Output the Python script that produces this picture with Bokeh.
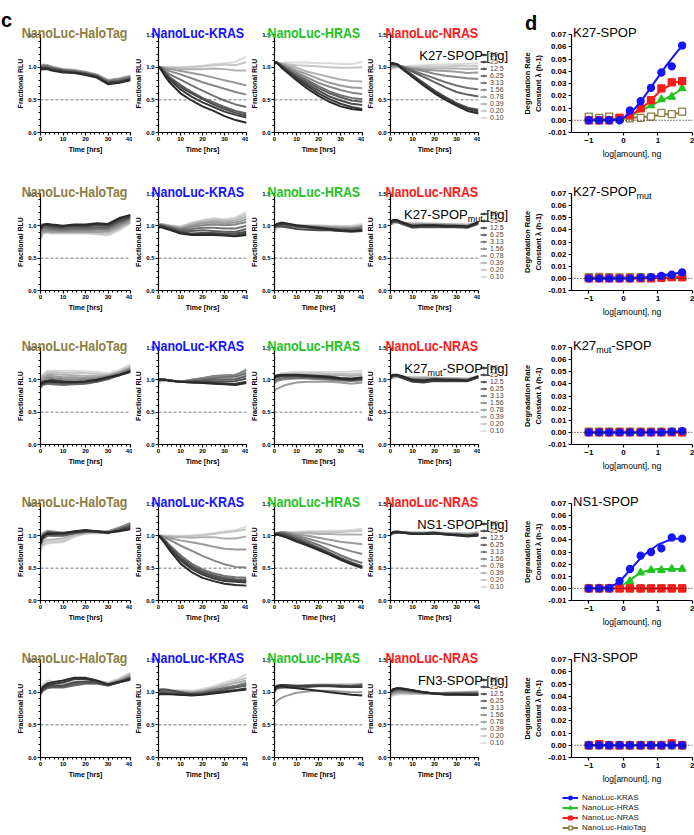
from bokeh.plotting import figure
from bokeh.layouts import row, column
from bokeh.models import (Span, Legend, LegendItem, FixedTicker, Div, Spacer,
                          NumeralTickFormatter, Range1d)
from bokeh.embed import file_html
from bokeh.resources import INLINE

# ------------------------------------------------------------------ data
time_hrs = [0, 1, 3, 5, 10, 15, 20, 25, 30, 35, 40]
conc_labels = ["50", "25", "12.5", "6.25", "3.13", "1.56", "0.78", "0.39", "0.20", "0.10"]
targets = ["NanoLuc-HaloTag", "NanoLuc-KRAS", "NanoLuc-HRAS", "NanoLuc-NRAS"]
construct_html = [
    "K27-SPOP",
    "K27-SPOP<sub>mut</sub>",
    "K27<sub>mut</sub>-SPOP",
    "NS1-SPOP",
    "FN3-SPOP",
]
unit_suffix = " [ng]"
half_level = 0.5
zero_level = 0.0
time_ticks = [0, 10, 20, 30, 40]
rlu_ticks = [0.0, 0.5, 1.0, 1.5]
log_amount = [-1.0, -0.7, -0.41, -0.11, 0.19, 0.5, 0.8, 1.1, 1.4, 1.7]
fit_x = [-1.0, -0.5, -0.25, 0.0, 0.25, 0.5, 0.75, 1.0, 1.25, 1.5, 1.7]
log_ticks = [-1, 0, 1, 2]
rate_ticks = [-0.01, 0.0, 0.01, 0.02, 0.03, 0.04, 0.05, 0.06, 0.07]

# ---- Fractional RLU time courses (rows: 50 ... 0.10 ng) ----
# K27-SPOP
k27_halotag = [
    [0.96, 0.97, 0.97, 0.95, 0.92, 0.91, 0.88, 0.84, 0.74, 0.76, 0.80],
    [0.97, 0.98, 0.98, 0.96, 0.93, 0.92, 0.89, 0.85, 0.75, 0.77, 0.81],
    [0.98, 0.99, 0.99, 0.97, 0.94, 0.92, 0.90, 0.86, 0.76, 0.78, 0.82],
    [0.98, 1.00, 1.00, 0.98, 0.95, 0.93, 0.90, 0.86, 0.77, 0.79, 0.83],
    [0.99, 1.01, 1.01, 0.99, 0.95, 0.94, 0.91, 0.87, 0.78, 0.80, 0.84],
    [1.00, 1.02, 1.02, 1.00, 0.96, 0.94, 0.92, 0.88, 0.79, 0.81, 0.85],
    [1.00, 1.03, 1.03, 1.00, 0.97, 0.95, 0.92, 0.88, 0.80, 0.82, 0.86],
    [1.01, 1.04, 1.03, 1.01, 0.97, 0.96, 0.93, 0.89, 0.80, 0.83, 0.87],
    [0.99, 1.02, 1.02, 1.00, 0.96, 0.95, 0.92, 0.88, 0.79, 0.82, 0.86],
    [0.97, 1.00, 1.00, 0.99, 0.95, 0.94, 0.91, 0.87, 0.78, 0.81, 0.85],
]
k27_kras = [
    [1.00, 0.97, 0.86, 0.77, 0.60, 0.49, 0.40, 0.33, 0.25, 0.19, 0.15],
    [1.00, 0.98, 0.89, 0.81, 0.66, 0.55, 0.46, 0.39, 0.32, 0.27, 0.23],
    [1.00, 0.98, 0.90, 0.83, 0.70, 0.60, 0.51, 0.43, 0.36, 0.30, 0.26],
    [1.00, 0.99, 0.91, 0.85, 0.73, 0.62, 0.53, 0.46, 0.39, 0.33, 0.29],
    [1.00, 0.99, 0.94, 0.89, 0.81, 0.72, 0.64, 0.56, 0.49, 0.43, 0.39],
    [1.00, 1.00, 0.97, 0.94, 0.89, 0.83, 0.77, 0.72, 0.67, 0.62, 0.58],
    [1.00, 1.00, 0.98, 0.97, 0.94, 0.91, 0.88, 0.84, 0.80, 0.76, 0.72],
    [1.00, 1.00, 0.99, 0.99, 0.97, 0.97, 0.97, 0.98, 0.97, 0.95, 0.95],
    [1.00, 1.00, 1.00, 0.99, 0.99, 1.00, 1.01, 1.03, 1.04, 1.03, 1.08],
    [1.00, 1.00, 1.00, 1.00, 1.00, 1.01, 1.02, 1.05, 1.06, 1.08, 1.16],
]
k27_hras = [
    [1.07, 1.07, 1.00, 0.94, 0.80, 0.67, 0.56, 0.47, 0.40, 0.36, 0.34],
    [1.07, 1.07, 1.01, 0.96, 0.83, 0.71, 0.60, 0.51, 0.44, 0.39, 0.36],
    [1.07, 1.07, 1.02, 0.97, 0.85, 0.74, 0.64, 0.55, 0.49, 0.44, 0.42],
    [1.07, 1.07, 1.03, 0.98, 0.87, 0.77, 0.68, 0.60, 0.54, 0.49, 0.47],
    [1.07, 1.07, 1.03, 0.99, 0.89, 0.80, 0.71, 0.63, 0.57, 0.53, 0.51],
    [1.07, 1.07, 1.04, 1.01, 0.92, 0.84, 0.76, 0.70, 0.65, 0.61, 0.59],
    [1.07, 1.07, 1.05, 1.02, 0.95, 0.89, 0.82, 0.76, 0.72, 0.69, 0.68],
    [1.07, 1.07, 1.06, 1.04, 0.99, 0.93, 0.89, 0.85, 0.81, 0.79, 0.78],
    [1.06, 1.06, 1.05, 1.05, 1.03, 1.02, 1.01, 1.00, 0.99, 0.99, 1.00],
    [1.05, 1.06, 1.06, 1.07, 1.07, 1.07, 1.06, 1.06, 1.05, 1.05, 1.08],
]
k27_nras = [
    [1.05, 1.06, 1.04, 0.98, 0.85, 0.72, 0.60, 0.50, 0.41, 0.33, 0.29],
    [1.05, 1.06, 1.05, 0.99, 0.86, 0.74, 0.62, 0.52, 0.43, 0.36, 0.32],
    [1.04, 1.05, 1.04, 1.00, 0.88, 0.76, 0.64, 0.54, 0.45, 0.38, 0.35],
    [1.04, 1.05, 1.04, 1.01, 0.93, 0.85, 0.77, 0.69, 0.62, 0.58, 0.55],
    [1.03, 1.04, 1.03, 1.01, 0.95, 0.89, 0.83, 0.77, 0.72, 0.68, 0.66],
    [1.02, 1.03, 1.03, 1.01, 0.97, 0.94, 0.90, 0.87, 0.85, 0.83, 0.82],
    [1.00, 1.01, 1.02, 1.01, 0.98, 0.96, 0.95, 0.94, 0.93, 0.91, 0.92],
    [1.00, 1.00, 1.01, 1.00, 0.99, 0.98, 0.98, 0.98, 0.98, 0.97, 0.98],
    [0.98, 0.99, 1.00, 1.00, 1.00, 1.01, 1.01, 1.01, 1.02, 1.01, 1.02],
    [0.97, 0.98, 1.00, 1.01, 1.02, 1.03, 1.04, 1.04, 1.05, 1.05, 1.06],
]
# K27-SPOPmut
spopmut_halotag = [
    [0.97, 1.02, 1.03, 1.02, 1.00, 1.02, 1.02, 1.04, 1.03, 1.12, 1.17],
    [0.96, 1.01, 1.02, 1.01, 0.99, 1.01, 1.01, 1.03, 1.02, 1.10, 1.16],
    [0.95, 1.00, 1.00, 0.99, 0.98, 1.00, 0.99, 1.01, 1.00, 1.08, 1.14],
    [0.94, 0.98, 0.98, 0.97, 0.96, 0.97, 0.97, 0.98, 0.98, 1.06, 1.13],
    [0.92, 0.96, 0.96, 0.95, 0.94, 0.95, 0.95, 0.96, 0.96, 1.04, 1.12],
    [0.90, 0.93, 0.93, 0.93, 0.92, 0.93, 0.93, 0.94, 0.94, 1.02, 1.10],
    [0.85, 0.91, 0.92, 0.91, 0.91, 0.91, 0.91, 0.91, 0.92, 0.99, 1.08],
    [0.82, 0.90, 0.91, 0.90, 0.90, 0.90, 0.90, 0.90, 0.90, 0.97, 1.06],
    [0.80, 0.89, 0.90, 0.89, 0.89, 0.89, 0.89, 0.88, 0.87, 0.95, 1.05],
    [0.79, 0.88, 0.89, 0.88, 0.88, 0.88, 0.88, 0.87, 0.85, 0.93, 1.04],
]
spopmut_kras = [
    [0.97, 0.98, 0.96, 0.94, 0.88, 0.86, 0.86, 0.86, 0.85, 0.84, 0.86],
    [0.98, 0.99, 0.97, 0.95, 0.89, 0.87, 0.87, 0.87, 0.86, 0.85, 0.88],
    [0.99, 1.00, 0.98, 0.96, 0.90, 0.88, 0.89, 0.89, 0.88, 0.88, 0.91],
    [1.00, 1.01, 0.99, 0.97, 0.92, 0.92, 0.93, 0.92, 0.91, 0.91, 0.95],
    [1.00, 1.01, 1.00, 0.98, 0.94, 0.95, 0.97, 0.97, 0.96, 0.96, 1.00],
    [1.01, 1.02, 1.00, 0.99, 0.95, 0.98, 1.01, 1.02, 1.01, 1.02, 1.06],
    [1.01, 1.02, 1.01, 0.99, 0.96, 1.00, 1.04, 1.05, 1.04, 1.05, 1.10],
    [1.01, 1.02, 1.01, 1.00, 0.97, 1.02, 1.06, 1.08, 1.07, 1.08, 1.14],
    [1.02, 1.03, 1.02, 1.00, 0.98, 1.04, 1.08, 1.10, 1.09, 1.11, 1.18],
    [1.02, 1.03, 1.02, 1.01, 0.99, 1.05, 1.09, 1.12, 1.10, 1.13, 1.22],
]
spopmut_hras = [
    [1.00, 1.03, 1.05, 1.04, 1.01, 0.99, 0.97, 0.95, 0.93, 0.92, 0.93],
    [0.99, 1.02, 1.03, 1.03, 1.00, 0.98, 0.96, 0.94, 0.92, 0.91, 0.92],
    [0.98, 0.99, 0.99, 0.98, 0.95, 0.94, 0.93, 0.93, 0.92, 0.92, 0.92],
    [0.98, 1.00, 1.00, 1.00, 0.98, 0.97, 0.96, 0.95, 0.94, 0.94, 0.95],
    [0.99, 1.01, 1.02, 1.01, 0.99, 0.98, 0.97, 0.96, 0.95, 0.95, 0.97],
    [0.99, 1.01, 1.02, 1.01, 1.00, 0.99, 0.98, 0.97, 0.96, 0.96, 0.98],
    [0.98, 1.00, 1.01, 1.01, 1.00, 0.99, 0.99, 0.98, 0.97, 0.97, 0.99],
    [0.96, 0.99, 1.00, 1.00, 1.00, 1.00, 0.99, 0.99, 0.98, 0.98, 1.00],
    [0.93, 0.98, 0.99, 1.00, 1.00, 1.00, 1.00, 0.99, 0.99, 0.99, 1.01],
    [0.90, 0.97, 0.99, 1.00, 1.01, 1.01, 1.01, 1.00, 1.00, 1.00, 1.03],
]
spopmut_nras = [
    [1.06, 1.09, 1.09, 1.06, 1.00, 1.01, 1.01, 1.00, 1.00, 0.99, 1.06],
    [1.05, 1.08, 1.08, 1.05, 0.99, 1.00, 1.00, 0.99, 0.99, 0.98, 1.05],
    [1.04, 1.07, 1.07, 1.04, 0.98, 0.99, 0.99, 0.99, 0.98, 0.98, 1.04],
    [1.03, 1.06, 1.06, 1.03, 0.97, 0.98, 0.98, 0.98, 0.98, 0.97, 1.03],
    [1.04, 1.07, 1.07, 1.05, 1.00, 1.00, 1.00, 1.00, 0.99, 0.99, 1.04],
    [1.03, 1.06, 1.06, 1.04, 1.00, 1.01, 1.01, 1.00, 1.00, 1.00, 1.05],
    [1.02, 1.05, 1.06, 1.05, 1.02, 1.03, 1.02, 1.02, 1.01, 1.00, 1.05],
    [1.02, 1.05, 1.06, 1.05, 1.03, 1.03, 1.03, 1.02, 1.02, 1.01, 1.05],
    [1.01, 1.04, 1.05, 1.05, 1.04, 1.04, 1.03, 1.03, 1.02, 1.02, 1.06],
    [1.00, 1.03, 1.05, 1.05, 1.04, 1.04, 1.04, 1.03, 1.03, 1.02, 1.06],
]
# K27mut-SPOP
k27mut_halotag = [
    [0.93, 0.96, 0.98, 0.98, 0.97, 0.97, 0.98, 1.00, 1.04, 1.08, 1.13],
    [0.92, 0.95, 0.97, 0.97, 0.96, 0.96, 0.97, 0.99, 1.03, 1.07, 1.12],
    [0.94, 0.97, 0.99, 1.00, 0.98, 0.97, 0.97, 0.99, 1.03, 1.08, 1.14],
    [0.90, 0.93, 0.95, 0.95, 0.94, 0.94, 0.95, 0.97, 1.02, 1.07, 1.14],
    [0.88, 0.92, 0.94, 0.93, 0.92, 0.93, 0.94, 0.97, 1.01, 1.07, 1.15],
    [0.92, 0.98, 1.03, 1.03, 1.01, 1.01, 1.01, 1.02, 1.05, 1.10, 1.17],
    [0.95, 1.02, 1.06, 1.06, 1.04, 1.04, 1.03, 1.04, 1.06, 1.11, 1.18],
    [0.96, 1.05, 1.09, 1.09, 1.08, 1.07, 1.06, 1.06, 1.07, 1.12, 1.19],
    [0.95, 1.07, 1.12, 1.12, 1.11, 1.11, 1.10, 1.09, 1.08, 1.13, 1.21],
    [0.94, 1.08, 1.14, 1.14, 1.14, 1.14, 1.13, 1.12, 1.10, 1.15, 1.24],
]
k27mut_kras = [
    [1.00, 1.00, 1.00, 0.99, 0.97, 0.96, 0.95, 0.94, 0.93, 0.92, 0.95],
    [1.00, 1.00, 1.00, 0.99, 0.97, 0.96, 0.96, 0.95, 0.94, 0.94, 0.97],
    [1.00, 1.00, 1.00, 0.99, 0.97, 0.97, 0.97, 0.97, 0.97, 0.98, 1.02],
    [1.00, 1.01, 1.00, 0.99, 0.97, 0.98, 0.99, 1.00, 1.00, 1.01, 1.06],
    [1.00, 1.01, 1.00, 0.99, 0.97, 0.99, 1.01, 1.03, 1.04, 1.05, 1.10],
    [1.00, 1.01, 1.00, 0.99, 0.97, 1.00, 1.03, 1.06, 1.07, 1.08, 1.15],
    [0.99, 1.00, 1.00, 0.99, 0.97, 1.00, 1.02, 1.04, 1.05, 1.07, 1.12],
    [0.98, 0.99, 0.99, 0.98, 0.97, 0.99, 1.01, 1.03, 1.03, 1.05, 1.17],
    [0.96, 0.98, 0.99, 0.98, 0.97, 0.98, 1.00, 1.01, 1.02, 1.04, 1.08],
    [0.94, 0.97, 0.98, 0.98, 0.97, 0.98, 0.99, 1.00, 1.01, 1.03, 1.06],
]
k27mut_hras = [
    [1.04, 1.06, 1.07, 1.07, 1.07, 1.06, 1.05, 1.04, 1.02, 1.01, 1.03],
    [1.05, 1.07, 1.08, 1.08, 1.08, 1.07, 1.06, 1.05, 1.03, 1.02, 1.04],
    [1.03, 1.05, 1.06, 1.06, 1.06, 1.05, 1.04, 1.03, 1.01, 1.00, 1.02],
    [1.02, 1.04, 1.05, 1.05, 1.05, 1.04, 1.03, 1.02, 1.00, 0.99, 1.01],
    [0.98, 1.00, 1.02, 1.03, 1.03, 1.03, 1.02, 1.01, 1.00, 0.99, 1.00],
    [0.95, 0.98, 1.00, 1.01, 1.02, 1.02, 1.01, 1.00, 0.99, 0.98, 0.99],
    [0.83, 0.86, 0.89, 0.92, 0.96, 0.97, 0.97, 0.97, 0.96, 0.94, 0.96],
    [1.00, 1.03, 1.06, 1.07, 1.08, 1.08, 1.08, 1.07, 1.07, 1.06, 1.08],
    [1.02, 1.05, 1.08, 1.09, 1.10, 1.10, 1.10, 1.09, 1.09, 1.09, 1.10],
    [1.03, 1.07, 1.10, 1.11, 1.12, 1.12, 1.12, 1.12, 1.12, 1.13, 1.14],
]
k27mut_nras = [
    [1.05, 1.08, 1.08, 1.06, 1.00, 0.99, 1.01, 1.00, 1.00, 0.99, 1.06],
    [1.04, 1.07, 1.07, 1.04, 0.98, 0.97, 0.99, 0.99, 0.99, 0.98, 1.05],
    [1.03, 1.06, 1.06, 1.03, 0.97, 0.96, 0.98, 0.98, 0.98, 0.98, 1.04],
    [1.04, 1.07, 1.07, 1.05, 0.99, 0.98, 1.00, 1.00, 0.99, 0.99, 1.04],
    [1.03, 1.06, 1.07, 1.05, 1.00, 1.00, 1.01, 1.00, 1.00, 1.00, 1.05],
    [1.02, 1.05, 1.06, 1.05, 1.01, 1.01, 1.02, 1.01, 1.01, 1.00, 1.04],
    [1.02, 1.05, 1.06, 1.05, 1.02, 1.02, 1.02, 1.02, 1.01, 1.01, 1.05],
    [1.01, 1.04, 1.05, 1.05, 1.03, 1.03, 1.03, 1.02, 1.02, 1.01, 1.05],
    [1.00, 1.03, 1.05, 1.05, 1.04, 1.04, 1.03, 1.03, 1.02, 1.02, 1.06],
    [1.00, 1.03, 1.04, 1.04, 1.04, 1.04, 1.04, 1.03, 1.03, 1.02, 1.05],
]
# NS1-SPOP
ns1_halotag = [
    [0.88, 0.98, 1.03, 1.03, 1.04, 1.07, 1.09, 1.07, 1.05, 1.07, 1.10],
    [0.90, 1.00, 1.04, 1.04, 1.04, 1.06, 1.08, 1.07, 1.05, 1.08, 1.12],
    [0.92, 1.00, 1.05, 1.05, 1.03, 1.05, 1.07, 1.06, 1.05, 1.09, 1.14],
    [0.86, 0.95, 1.00, 1.00, 1.00, 1.04, 1.06, 1.06, 1.04, 1.10, 1.16],
    [0.90, 0.98, 1.02, 1.01, 1.01, 1.05, 1.06, 1.06, 1.05, 1.11, 1.17],
    [0.92, 1.02, 1.06, 1.06, 1.04, 1.06, 1.07, 1.06, 1.06, 1.12, 1.19],
    [0.95, 1.04, 1.08, 1.07, 1.05, 1.06, 1.07, 1.07, 1.07, 1.13, 1.20],
    [0.85, 0.90, 0.94, 0.94, 0.96, 1.02, 1.05, 1.05, 1.05, 1.12, 1.18],
    [0.80, 0.86, 0.90, 0.90, 0.92, 1.00, 1.04, 1.05, 1.05, 1.11, 1.17],
    [0.76, 0.84, 0.88, 0.89, 0.90, 0.98, 1.03, 1.04, 1.04, 1.10, 1.16],
]
ns1_kras = [
    [1.00, 0.97, 0.88, 0.78, 0.57, 0.44, 0.35, 0.30, 0.26, 0.24, 0.23],
    [1.00, 0.98, 0.90, 0.81, 0.62, 0.49, 0.40, 0.34, 0.30, 0.29, 0.28],
    [1.00, 0.98, 0.91, 0.83, 0.65, 0.52, 0.43, 0.37, 0.33, 0.31, 0.30],
    [1.00, 0.98, 0.92, 0.84, 0.67, 0.54, 0.45, 0.39, 0.35, 0.33, 0.32],
    [1.00, 0.99, 0.93, 0.86, 0.70, 0.57, 0.48, 0.42, 0.38, 0.36, 0.35],
    [1.00, 1.00, 0.97, 0.94, 0.85, 0.77, 0.69, 0.62, 0.56, 0.52, 0.51],
    [1.00, 1.00, 0.98, 0.97, 0.93, 0.90, 0.87, 0.83, 0.80, 0.79, 0.79],
    [1.00, 1.00, 0.99, 0.99, 0.98, 0.97, 0.98, 0.98, 0.96, 0.96, 0.99],
    [1.00, 1.00, 1.00, 0.99, 0.99, 1.00, 1.01, 1.03, 1.05, 1.07, 1.10],
    [1.00, 1.00, 1.00, 1.00, 1.00, 1.00, 1.02, 1.04, 1.07, 1.09, 1.14],
]
ns1_hras = [
    [1.00, 1.02, 1.00, 0.98, 0.91, 0.85, 0.78, 0.71, 0.63, 0.56, 0.50],
    [1.01, 1.03, 1.01, 0.99, 0.92, 0.86, 0.79, 0.72, 0.64, 0.57, 0.51],
    [1.02, 1.04, 1.03, 1.01, 0.94, 0.87, 0.80, 0.73, 0.65, 0.58, 0.52],
    [1.02, 1.04, 1.04, 1.02, 0.96, 0.89, 0.82, 0.74, 0.66, 0.59, 0.53],
    [1.02, 1.04, 1.05, 1.04, 0.98, 0.92, 0.86, 0.78, 0.70, 0.63, 0.58],
    [1.02, 1.04, 1.05, 1.05, 1.00, 0.96, 0.91, 0.86, 0.81, 0.76, 0.72],
    [1.02, 1.04, 1.05, 1.05, 1.02, 1.00, 0.97, 0.94, 0.91, 0.89, 0.87],
    [1.02, 1.04, 1.05, 1.05, 1.04, 1.04, 1.03, 1.03, 1.02, 1.02, 1.02],
    [1.02, 1.04, 1.05, 1.05, 1.05, 1.06, 1.06, 1.06, 1.06, 1.07, 1.08],
    [1.02, 1.04, 1.05, 1.05, 1.06, 1.07, 1.07, 1.08, 1.08, 1.09, 1.11],
]
ns1_nras = [
    [1.02, 1.05, 1.06, 1.05, 1.03, 1.03, 1.04, 1.02, 1.01, 1.00, 1.00],
    [1.02, 1.05, 1.06, 1.05, 1.03, 1.03, 1.04, 1.02, 1.01, 0.99, 1.01],
    [1.03, 1.06, 1.06, 1.05, 1.04, 1.03, 1.04, 1.03, 1.02, 1.00, 1.02],
    [1.03, 1.06, 1.07, 1.06, 1.04, 1.04, 1.05, 1.03, 1.02, 1.01, 1.02],
    [1.03, 1.05, 1.06, 1.05, 1.04, 1.04, 1.04, 1.03, 1.02, 1.01, 1.03],
    [1.02, 1.04, 1.05, 1.05, 1.04, 1.04, 1.04, 1.03, 1.03, 1.02, 1.03],
    [1.02, 1.04, 1.05, 1.05, 1.04, 1.04, 1.05, 1.04, 1.03, 1.02, 1.04],
    [1.02, 1.04, 1.05, 1.05, 1.05, 1.05, 1.05, 1.04, 1.04, 1.03, 1.05],
    [1.01, 1.03, 1.05, 1.05, 1.05, 1.05, 1.05, 1.04, 1.04, 1.03, 1.05],
    [1.01, 1.03, 1.04, 1.05, 1.05, 1.05, 1.05, 1.05, 1.04, 1.04, 1.06],
]
# FN3-SPOP
fn3_halotag = [
    [1.00, 1.08, 1.13, 1.15, 1.18, 1.22, 1.22, 1.18, 1.12, 1.16, 1.20],
    [0.99, 1.06, 1.10, 1.12, 1.15, 1.20, 1.20, 1.17, 1.11, 1.15, 1.19],
    [0.98, 1.04, 1.08, 1.09, 1.10, 1.15, 1.16, 1.15, 1.11, 1.15, 1.21],
    [0.98, 1.03, 1.07, 1.08, 1.08, 1.12, 1.14, 1.14, 1.10, 1.15, 1.22],
    [0.97, 1.02, 1.06, 1.07, 1.07, 1.10, 1.13, 1.13, 1.10, 1.16, 1.23],
    [0.98, 1.04, 1.08, 1.09, 1.09, 1.12, 1.14, 1.14, 1.11, 1.17, 1.24],
    [0.99, 1.06, 1.10, 1.11, 1.11, 1.14, 1.15, 1.15, 1.12, 1.18, 1.25],
    [1.00, 1.08, 1.12, 1.13, 1.13, 1.15, 1.16, 1.16, 1.13, 1.19, 1.27],
    [1.02, 1.10, 1.15, 1.15, 1.15, 1.16, 1.17, 1.17, 1.14, 1.20, 1.28],
    [1.03, 1.12, 1.18, 1.17, 1.16, 1.17, 1.18, 1.18, 1.15, 1.21, 1.30],
]
fn3_kras = [
    [0.96, 0.97, 0.97, 0.97, 0.96, 0.95, 0.96, 0.98, 1.00, 1.02, 1.04],
    [0.97, 0.98, 0.98, 0.97, 0.96, 0.96, 0.97, 0.99, 1.01, 1.03, 1.05],
    [1.03, 1.04, 1.04, 1.03, 1.00, 0.97, 0.97, 0.99, 1.01, 1.03, 1.06],
    [1.00, 1.01, 1.00, 0.99, 0.98, 0.97, 0.98, 1.01, 1.04, 1.07, 1.10],
    [1.00, 1.01, 1.01, 1.00, 0.99, 0.98, 1.00, 1.03, 1.06, 1.09, 1.12],
    [0.99, 1.00, 1.00, 0.99, 0.98, 0.98, 1.00, 1.03, 1.06, 1.09, 1.13],
    [1.01, 1.02, 1.02, 1.01, 1.00, 0.99, 1.01, 1.04, 1.07, 1.10, 1.15],
    [1.02, 1.03, 1.03, 1.02, 1.01, 1.00, 1.02, 1.06, 1.10, 1.14, 1.18],
    [1.03, 1.04, 1.04, 1.03, 1.02, 1.01, 1.03, 1.07, 1.12, 1.17, 1.22],
    [1.04, 1.05, 1.05, 1.04, 1.03, 1.02, 1.05, 1.09, 1.15, 1.20, 1.27],
]
fn3_hras = [
    [1.03, 1.08, 1.09, 1.08, 1.06, 1.04, 1.02, 1.00, 0.98, 0.96, 0.95],
    [1.05, 1.10, 1.11, 1.11, 1.10, 1.10, 1.10, 1.10, 1.09, 1.08, 1.08],
    [1.04, 1.08, 1.09, 1.09, 1.09, 1.10, 1.10, 1.10, 1.10, 1.09, 1.10],
    [1.02, 1.06, 1.07, 1.07, 1.07, 1.08, 1.09, 1.09, 1.08, 1.08, 1.09],
    [1.03, 1.07, 1.08, 1.08, 1.08, 1.09, 1.10, 1.10, 1.09, 1.09, 1.11],
    [1.02, 1.06, 1.08, 1.08, 1.09, 1.10, 1.11, 1.11, 1.10, 1.10, 1.12],
    [0.82, 0.86, 0.91, 0.94, 0.99, 1.01, 1.02, 1.02, 1.01, 1.00, 1.00],
    [1.00, 1.05, 1.07, 1.08, 1.09, 1.10, 1.11, 1.11, 1.11, 1.11, 1.12],
    [1.01, 1.06, 1.08, 1.09, 1.10, 1.11, 1.12, 1.12, 1.12, 1.12, 1.13],
    [1.00, 1.04, 1.06, 1.07, 1.08, 1.09, 1.10, 1.10, 1.10, 1.10, 1.11],
]
fn3_nras = [
    [1.00, 1.04, 1.06, 1.06, 1.03, 1.00, 0.98, 0.96, 0.96, 0.96, 0.96],
    [1.00, 1.04, 1.06, 1.05, 1.03, 1.00, 0.98, 0.97, 0.97, 0.96, 0.96],
    [1.00, 1.03, 1.05, 1.05, 1.02, 1.00, 0.98, 0.97, 0.97, 0.97, 0.97],
    [0.99, 1.02, 1.04, 1.04, 1.02, 1.00, 0.98, 0.98, 0.98, 0.98, 0.98],
    [0.98, 1.01, 1.03, 1.03, 1.01, 0.99, 0.98, 0.98, 0.98, 0.98, 0.98],
    [0.97, 1.00, 1.02, 1.02, 1.00, 0.99, 0.98, 0.98, 0.98, 0.99, 0.99],
    [0.96, 0.99, 1.00, 1.00, 0.99, 0.98, 0.98, 0.98, 0.99, 0.99, 1.00],
    [0.95, 0.97, 0.99, 0.99, 0.98, 0.98, 0.98, 0.99, 0.99, 1.00, 1.00],
    [0.94, 0.96, 0.97, 0.98, 0.98, 0.98, 0.98, 0.99, 1.00, 1.00, 1.01],
    [0.93, 0.95, 0.96, 0.97, 0.97, 0.98, 0.98, 0.99, 1.00, 1.01, 1.01],
]

# ---- degradation rate constants (points at log_amount, fits at fit_x) ----
k27_rate_kras = [0.0, 0.0, 0.0, 0.0, 0.008, 0.0155, 0.0265, 0.039, 0.044, 0.061]
k27_rate_hras = [0.0, 0.0, 0.0, 0.0, 0.003, 0.009, 0.012, 0.017, 0.019, 0.026]
k27_rate_nras = [0.0, 0.0, 0.0, 0.002, 0.004, 0.0097, 0.0164, 0.026, 0.031, 0.032]
k27_rate_halotag = [0.003, 0.002, 0.003, 0.002, 0.0015, 0.002, 0.003, 0.006, 0.005, 0.007]
k27_fit_kras = [0.0, 0.0, 0.0005, 0.002, 0.007, 0.015, 0.025, 0.035, 0.045, 0.054, 0.061]
k27_fit_hras = [0.0, 0.0, 0.0, 0.001, 0.004, 0.008, 0.011, 0.015, 0.018, 0.022, 0.026]
k27_fit_nras = [0.0, 0.0, 0.0005, 0.002, 0.005, 0.009, 0.015, 0.022, 0.027, 0.031, 0.032]
k27_fit_halotag = [0.001, 0.001, 0.0012, 0.0015, 0.002, 0.0025, 0.003, 0.004, 0.005, 0.0055, 0.006]

spopmut_rate_kras = [0.0, 0.0, 0.0, 0.0, 0.0, 0.0005, 0.001, 0.002, 0.003, 0.005]
spopmut_rate_hras = [0.0, 0.0, 0.0, 0.0, 0.0, 0.0, 0.0005, 0.001, 0.001, 0.002]
spopmut_rate_nras = [0.0, 0.0, 0.0, 0.0, 0.0, 0.0, 0.0, 0.0005, 0.001, 0.001]
spopmut_rate_halotag = [0.001, 0.0012, 0.001, 0.0008, 0.001, 0.001, 0.0008, 0.001, 0.0012, 0.001]
spopmut_fit_kras = [0.0, 0.0, 0.0, 0.0, 0.0002, 0.0006, 0.0012, 0.002, 0.003, 0.004, 0.005]
spopmut_fit_hras = [0.0, 0.0, 0.0, 0.0, 0.0, 0.0002, 0.0005, 0.0008, 0.0012, 0.0016, 0.002]
spopmut_fit_nras = [0.0, 0.0, 0.0, 0.0, 0.0, 0.0, 0.0002, 0.0004, 0.0006, 0.0008, 0.001]
spopmut_fit_halotag = [0.001, 0.001, 0.001, 0.001, 0.001, 0.001, 0.001, 0.001, 0.001, 0.001, 0.001]

k27mut_rate_kras = [0.0, 0.0, 0.0, 0.0, 0.0, 0.0, 0.0, 0.0, 0.0005, 0.001]
k27mut_rate_hras = [0.0, 0.0, 0.0, 0.0, 0.0, 0.0, 0.0, 0.0, 0.0, 0.0]
k27mut_rate_nras = [0.0, 0.0, 0.0, 0.0, 0.0, 0.0, 0.0, 0.0, 0.0, 0.0]
k27mut_rate_halotag = [0.0005, 0.0005, 0.0005, 0.0005, 0.0005, 0.0005, 0.0005, 0.0005, 0.0005, 0.0005]
k27mut_fit_kras = [0.0, 0.0, 0.0, 0.0, 0.0, 0.0, 0.0, 0.0002, 0.0004, 0.0007, 0.001]
k27mut_fit_hras = [0.0, 0.0, 0.0, 0.0, 0.0, 0.0, 0.0, 0.0, 0.0, 0.0, 0.0]
k27mut_fit_nras = [0.0, 0.0, 0.0, 0.0, 0.0, 0.0, 0.0, 0.0, 0.0, 0.0, 0.0]
k27mut_fit_halotag = [0.0005, 0.0005, 0.0005, 0.0005, 0.0005, 0.0005, 0.0005, 0.0005, 0.0005, 0.0005, 0.0005]

ns1_rate_kras = [0.0, 0.0, 0.0, 0.006, 0.016, 0.027, 0.030, 0.033, 0.042, 0.041]
ns1_rate_hras = [0.0, 0.0, 0.0, 0.002, 0.006, 0.013, 0.015, 0.015, 0.016, 0.016]
ns1_rate_nras = [0.0, 0.0, 0.0, 0.0, 0.0, 0.0, 0.0, 0.0, 0.0, 0.0]
ns1_rate_halotag = [0.0, 0.0, 0.0, 0.0, 0.0, 0.0, 0.0, 0.0, 0.0, 0.0]
ns1_fit_kras = [0.0, 0.001, 0.003, 0.009, 0.017, 0.025, 0.031, 0.036, 0.039, 0.041, 0.041]
ns1_fit_hras = [0.0, 0.0, 0.0005, 0.003, 0.008, 0.013, 0.015, 0.016, 0.016, 0.016, 0.016]
ns1_fit_nras = [0.0, 0.0, 0.0, 0.0, 0.0, 0.0, 0.0, 0.0, 0.0, 0.0, 0.0]
ns1_fit_halotag = [0.0, 0.0, 0.0, 0.0, 0.0, 0.0, 0.0, 0.0, 0.0, 0.0, 0.0]

fn3_rate_kras = [0.0, 0.0, 0.0, 0.0, 0.0, 0.0, 0.0, 0.0, 0.0, 0.0]
fn3_rate_hras = [0.0, 0.0, 0.0, 0.0, 0.0, 0.0, 0.0, 0.0, 0.0, 0.0]
fn3_rate_nras = [0.0, 0.001, 0.0, 0.0, 0.0, 0.0, 0.0, 0.0, 0.0015, 0.0]
fn3_rate_halotag = [0.0, 0.0, 0.0, 0.0, 0.0, 0.0, 0.0, 0.0, 0.0, 0.0]
fn3_fit_kras = [0.0, 0.0, 0.0, 0.0, 0.0, 0.0, 0.0, 0.0, 0.0, 0.0, 0.0]
fn3_fit_hras = [0.0, 0.0, 0.0, 0.0, 0.0, 0.0, 0.0, 0.0, 0.0, 0.0, 0.0]
fn3_fit_nras = [0.0, 0.0, 0.0, 0.0, 0.0, 0.0, 0.0, 0.0, 0.0, 0.0, 0.0]
fn3_fit_halotag = [0.0, 0.0, 0.0, 0.0, 0.0, 0.0, 0.0, 0.0, 0.0, 0.0, 0.0]

# ------------------------------------------------------------------ assembly
time_courses = [
    [k27_halotag, k27_kras, k27_hras, k27_nras],
    [spopmut_halotag, spopmut_kras, spopmut_hras, spopmut_nras],
    [k27mut_halotag, k27mut_kras, k27mut_hras, k27mut_nras],
    [ns1_halotag, ns1_kras, ns1_hras, ns1_nras],
    [fn3_halotag, fn3_kras, fn3_hras, fn3_nras],
]
rates = [
    [k27_rate_kras, k27_rate_hras, k27_rate_nras, k27_rate_halotag],
    [spopmut_rate_kras, spopmut_rate_hras, spopmut_rate_nras, spopmut_rate_halotag],
    [k27mut_rate_kras, k27mut_rate_hras, k27mut_rate_nras, k27mut_rate_halotag],
    [ns1_rate_kras, ns1_rate_hras, ns1_rate_nras, ns1_rate_halotag],
    [fn3_rate_kras, fn3_rate_hras, fn3_rate_nras, fn3_rate_halotag],
]
fits = [
    [k27_fit_kras, k27_fit_hras, k27_fit_nras, k27_fit_halotag],
    [spopmut_fit_kras, spopmut_fit_hras, spopmut_fit_nras, spopmut_fit_halotag],
    [k27mut_fit_kras, k27mut_fit_hras, k27mut_fit_nras, k27mut_fit_halotag],
    [ns1_fit_kras, ns1_fit_hras, ns1_fit_nras, ns1_fit_halotag],
    [fn3_fit_kras, fn3_fit_hras, fn3_fit_nras, fn3_fit_halotag],
]
rate_series = ["NanoLuc-KRAS", "NanoLuc-HRAS", "NanoLuc-NRAS", "NanoLuc-HaloTag"]

# ------------------------------------------------------------------ style / layout
FONT = "Liberation Sans"
CSS_FONT = "'Liberation Sans', Arial, sans-serif"
OLIVE = "#8e7d3f"
BLUE = "#1414ff"
GREEN = "#22c422"
RED = "#ff1a1a"
title_colors = [OLIVE, BLUE, GREEN, RED]
series_style = {
    "NanoLuc-KRAS": dict(color=BLUE, marker="circle", fill=BLUE, size=7),
    "NanoLuc-HRAS": dict(color=GREEN, marker="triangle", fill=GREEN, size=7.5),
    "NanoLuc-NRAS": dict(color=RED, marker="square", fill=RED, size=7),
    "NanoLuc-HaloTag": dict(color=OLIVE, marker="square", fill="white", size=7),
}
greys = ["#2a2a2a", "#3b3b3b", "#4d4d4d", "#606060", "#737373",
         "#878787", "#9b9b9b", "#b0b0b0", "#c6c6c6", "#dadada"]

ROW_H = [164, 155, 154, 156, 204]
TOP_B = [34, 29, 28, 30, 30]
FRAME_H = 98
C_FRAME_W = 90
D_FRAME_W = 126
C_LEFT = [40, 24, 24, 24]
C_RIGHT = 2
LEG_W = 40
LEG_DROP = 17
D_LEFT, D_RIGHT = 46, 2
D5_H = 164
RATE_LEG_X = 42
title_centers = [75, 198, 314, 432]

row_top = []
acc = 0
for h in ROW_H:
    row_top.append(acc)
    acc += h
total_rows_h = acc
frame_top = [row_top[r] + TOP_B[r] for r in range(5)]


def style_axis(ax, tick_px, label_px, label_bold=True):
    ax.axis_line_color = "black"
    ax.axis_line_width = 1.2
    ax.major_tick_line_color = "black"
    ax.major_tick_line_width = 1.2
    ax.major_tick_in = 0
    ax.major_tick_out = 3
    ax.minor_tick_line_color = "black"
    ax.minor_tick_line_width = 1
    ax.minor_tick_in = 0
    ax.minor_tick_out = 2
    ax.major_label_text_font = FONT
    ax.major_label_text_font_style = "bold"
    ax.major_label_text_font_size = f"{tick_px}px"
    ax.major_label_text_color = "black"
    ax.major_label_standoff = 1
    ax.axis_label_text_font = FONT
    ax.axis_label_text_font_style = "bold" if label_bold else "normal"
    ax.axis_label_text_font_size = f"{label_px}px"
    ax.axis_label_text_color = "black"
    ax.axis_label_standoff = 1


def legend_only_fig(width, height, x_range):
    # a figure whose visible window holds only a legend; its renderers carry the real
    # series but the x window is placed away from them so only the legend shows
    p = figure(width=width, height=height, x_range=x_range, y_range=Range1d(0, 1),
               x_axis_type=None, y_axis_type=None, output_backend="svg",
               toolbar_location=None, min_border=0)
    p.outline_line_color = None
    p.xgrid.visible = False
    p.ygrid.visible = False
    return p


def c_panel(r, c):
    left = C_LEFT[c]
    height = ROW_H[r]
    p = figure(width=left + C_FRAME_W + C_RIGHT, height=height,
               x_range=Range1d(0, 40), y_range=Range1d(0, 1.5),
               output_backend="svg", toolbar_location=None,
               min_border_left=left, min_border_right=C_RIGHT,
               min_border_top=TOP_B[r], min_border_bottom=height - TOP_B[r] - FRAME_H)
    p.outline_line_color = None
    p.xgrid.visible = False
    p.ygrid.visible = False
    p.xaxis.axis_label = "Time [hrs]"
    p.yaxis.axis_label = "Fractional RLU"
    style_axis(p.xaxis[0], 6, 7)
    style_axis(p.yaxis[0], 6, 7)
    p.xaxis[0].ticker = FixedTicker(ticks=time_ticks, minor_ticks=list(range(0, 41, 2)))
    p.yaxis[0].ticker = FixedTicker(ticks=rlu_ticks, minor_ticks=[i / 10 for i in range(16)])
    p.yaxis[0].formatter = NumeralTickFormatter(format="0.0")
    p.xaxis[0].axis_label_standoff = 2
    p.add_layout(Span(location=half_level, dimension="width", line_color="#555555",
                      line_width=0.8, line_dash="3 2"))
    curves = time_courses[r][c]
    for i in reversed(range(len(curves))):
        p.line(time_hrs, curves[i], line_color=greys[i], line_width=2)
    return p


def conc_legend(r):
    height = ROW_H[r] - TOP_B[r] - LEG_DROP
    p = legend_only_fig(LEG_W, height, Range1d(-100, -99))
    curves = time_courses[r][3]
    items = []
    for i, lab in enumerate(conc_labels):
        lr = p.line(time_hrs, curves[i], line_color=greys[i], line_width=1.5)
        sr = p.scatter(time_hrs, curves[i], marker="cross", size=4, line_color=greys[i],
                       line_width=1)
        items.append(LegendItem(label=lab, renderers=[lr, sr]))
    legend = Legend(items=items, location="top_left",
                    glyph_width=7, glyph_height=7, label_height=7,
                    spacing=0, padding=0, margin=0, label_standoff=3,
                    label_text_font=FONT, label_text_font_size="7px",
                    label_text_color="#444444", label_text_line_height=0.9,
                    background_fill_alpha=0, border_line_alpha=0)
    p.add_layout(legend)
    return column(Spacer(width=LEG_W, height=TOP_B[r] + LEG_DROP), p)


def d_panel(r, height):
    p = figure(width=D_LEFT + D_FRAME_W + D_RIGHT, height=height,
               x_range=Range1d(-1.5, 2.0), y_range=Range1d(-0.01, 0.07),
               output_backend="svg", toolbar_location=None,
               min_border_left=D_LEFT, min_border_right=D_RIGHT,
               min_border_top=TOP_B[r], min_border_bottom=height - TOP_B[r] - FRAME_H)
    p.outline_line_color = None
    p.xgrid.visible = False
    p.ygrid.visible = False
    p.xaxis.axis_label = "log[amount], ng"
    p.yaxis.axis_label = "Degradation Rate\nConstant \u03bb (h-1)"
    style_axis(p.xaxis[0], 8, 8.5, label_bold=False)
    style_axis(p.yaxis[0], 8, 7.5)
    p.xaxis[0].ticker = FixedTicker(ticks=log_ticks, minor_ticks=[])
    p.yaxis[0].ticker = FixedTicker(ticks=rate_ticks, minor_ticks=[])
    p.yaxis[0].formatter = NumeralTickFormatter(format="0.00")
    p.xaxis[0].major_label_standoff = 2
    p.xaxis[0].axis_label_standoff = 3
    p.yaxis[0].major_label_standoff = 2
    p.yaxis[0].axis_label_standoff = 2
    p.add_layout(Span(location=zero_level, dimension="width", line_color="black",
                      line_width=1, line_dash="1 2"))
    for k in [3, 1, 2, 0]:
        st = series_style[rate_series[k]]
        p.line(fit_x, fits[r][k], line_color=st["color"], line_width=2)
        p.scatter(log_amount, rates[r][k], marker=st["marker"], size=st["size"],
                  fill_color=st["fill"], line_color=st["color"], line_width=1.3)
    return p


def rate_legend(r, height):
    width = D_LEFT + D_FRAME_W + D_RIGHT - RATE_LEG_X
    p = legend_only_fig(width, height, Range1d(50, 51))
    items = []
    for k, name in enumerate(rate_series):
        st = series_style[name]
        lr = p.line(fit_x, fits[r][k], line_color=st["color"], line_width=2)
        sr = p.scatter(log_amount, rates[r][k], marker=st["marker"], size=st["size"],
                       fill_color=st["fill"], line_color=st["color"], line_width=1.3)
        items.append(LegendItem(label=name, renderers=[lr, sr]))
    legend = Legend(items=items, location="top_left", glyph_width=16, glyph_height=9,
                    label_height=9, spacing=1, padding=0, margin=0, label_standoff=4,
                    label_text_font=FONT, label_text_font_size="8px",
                    label_text_color="#222222",
                    background_fill_alpha=0, border_line_alpha=0)
    p.add_layout(legend)
    return row(Spacer(width=RATE_LEG_X, height=height), p)


# ---- floating texts (panel titles, construct labels, panel letters) ----
def text_box(html, x, baseline, size, align="left", weight="normal", color="black",
             width=140, extra=""):
    top = baseline - 0.8465 * size
    if align == "center":
        left = x - width / 2
    elif align == "right":
        left = x - width
    else:
        left = x
    return (f"<div style=\"position:absolute;left:{left:.1f}px;top:{top:.1f}px;width:{width}px;"
            f"font-family:{CSS_FONT};font-size:{size}px;font-weight:{weight};color:{color};"
            f"line-height:{size}px;text-align:{align};white-space:nowrap;margin:0;padding:0\">"
            f"<span style=\"display:inline-block;{extra}\">{html}</span></div>")


SUB = "<sub style=\"font-size:9px;vertical-align:baseline;position:relative;top:3px\">"

boxes = [text_box("c", 1, 15, 20, weight="bold"),
         text_box("d", 525, 18, 20, weight="bold")]
for r in range(5):
    ft = frame_top[r]
    for c in range(4):
        boxes.append(text_box(targets[c], title_centers[c], ft - 8, 15, align="center",
                              weight="bold", color=title_colors[c], width=130,
                              extra="transform:scaleX(0.83);transform-origin:50% 50%"))
    html = construct_html[r].replace("<sub>", SUB)
    boxes.append(text_box(html + unit_suffix, 508, ft + 14, 13, align="right", width=130))
    boxes.append(text_box(html, 573, ft - 9, 13, align="left", width=110))

overlay_html = (f"<div style=\"position:relative;top:-{total_rows_h}px;left:0;width:694px;"
                f"height:0;overflow:visible\">" + "".join(boxes) + "</div>")
overlay = Div(text=overlay_html, width=694, height=1, margin=0,
              styles={"position": "relative", "z-index": "10", "overflow": "visible"})

rows = []
for r in range(5):
    if r < 4:
        d_part = d_panel(r, ROW_H[r])
    else:
        d_part = column(d_panel(r, D5_H), rate_legend(r, ROW_H[r] - D5_H))
    rows.append(row(*[c_panel(r, c) for c in range(4)], conc_legend(r), d_part))
layout = column(*rows, overlay)

open("out.html", "w").write(file_html(layout, INLINE))
